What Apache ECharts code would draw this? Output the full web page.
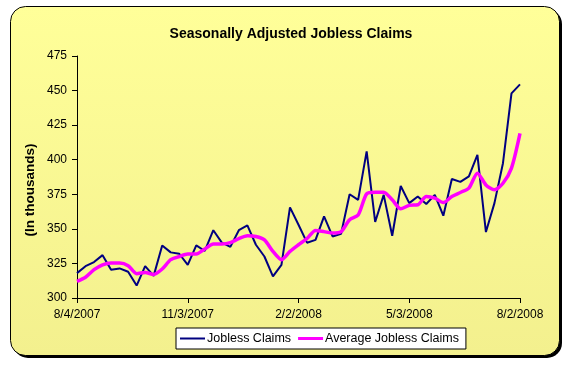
<!DOCTYPE html>
<html>
<head>
<meta charset="utf-8">
<script src="https://cdn.jsdelivr.net/npm/echarts@6/dist/echarts.min.js"></script>
<style>
html,body{margin:0;padding:0;background:#fff;}
#c{width:568px;height:365px;}
</style>
</head>
<body>
<div id="c"></div>
<script>
var categories = ['8/4/2007','8/11/2007','8/18/2007','8/25/2007','9/1/2007','9/8/2007','9/15/2007','9/22/2007','9/29/2007','10/6/2007','10/13/2007','10/20/2007','10/27/2007','11/3/2007','11/10/2007','11/17/2007','11/24/2007','12/1/2007','12/8/2007','12/15/2007','12/22/2007','12/29/2007','1/5/2008','1/12/2008','1/19/2008','1/26/2008','2/2/2008','2/9/2008','2/16/2008','2/23/2008','3/1/2008','3/8/2008','3/15/2008','3/22/2008','3/29/2008','4/5/2008','4/12/2008','4/19/2008','4/26/2008','5/3/2008','5/10/2008','5/17/2008','5/24/2008','5/31/2008','6/7/2008','6/14/2008','6/21/2008','6/28/2008','7/5/2008','7/12/2008','7/19/2008','7/26/2008','8/2/2008'];

var joblessClaims = [318,323,326,331,320.5,321.4,319,309,323,316,338,333,332,324,338,334,349,340,337,349,352.5,338.5,330,315.6,324,365.5,353,340,342,359,344.5,346.5,375,371,406,355,374.6,345,381,368.6,373.4,368,374.6,359.5,386,384,388,403.5,347.7,368.6,397.5,448,454.5];

var averageClaims = [312,315,320.5,324,325.3,325.3,323.4,317.6,318.5,317,321,327.7,330,331.8,331.8,335.4,339,339,340,343,345,344.5,342,333.7,327.7,333.7,338.5,343,348.9,348,347,348,356.6,360,375.3,376.5,376.5,371,364.5,367,367.4,373.4,372.2,369,373.4,376.3,379.4,390.3,381.8,378.2,383,393.9,419];

var yTicks = {min:300, max:475, interval:25};

var chart = echarts.init(document.getElementById('c'), null, {renderer:'canvas'});
var font = 'Arial, "Liberation Sans", sans-serif';

chart.setOption({
  animation:false,
  graphic:[
    {type:'rect', z:-10, silent:true, shape:{x:13, y:9, width:549, height:349, r:15}, style:{fill:'#000'}},
    {type:'rect', z:-9, silent:true, shape:{x:10.5, y:6.5, width:549, height:349, r:15},
      style:{fill:new echarts.graphic.LinearGradient(0,0,0,1,[{offset:0,color:'#FFFF99'},{offset:1,color:'#F3F08E'}]), stroke:'#000', lineWidth:1}},
    {type:'text', silent:true, x:30, y:190, rotation:Math.PI/2,
      style:{text:'(In thousands)', fill:'#000', font:'bold 13.5px '+font, textAlign:'center', textVerticalAlign:'middle'}}
  ],
  title:{
    text:'Seasonally Adjusted Jobless Claims',
    left:286, top:22, textAlign:'center',
    textStyle:{fontFamily:font, fontSize:14, fontWeight:'bold', color:'#000'}
  },
  legend:{
    left:176, top:328,
    padding:[4,7,4,4],
    itemGap:7,
    itemWidth:25, itemHeight:3,
    backgroundColor:'#fff', borderColor:'#000', borderWidth:1, borderRadius:0,
    textStyle:{fontFamily:font, fontSize:12.5, color:'#000', padding:[0,0,0,-3]},
    data:[
      {name:'Jobless Claims', icon:'path://M0 0H25V2H0Z'},
      {name:'Average Jobless Claims', icon:'path://M0 0H25V3H0Z'}
    ]
  },
  grid:{left:77, top:56, width:443, height:242, containLabel:false},
  xAxis:{
    type:'category', data:categories, boundaryGap:false,
    axisLine:{lineStyle:{color:'#000', width:1}},
    axisTick:{show:true, interval:12, length:5, lineStyle:{color:'#000'}},
    axisLabel:{interval:12, margin:11, fontFamily:font, fontSize:12, color:'#000'},
    splitLine:{show:false}
  },
  yAxis:{
    type:'value', min:yTicks.min, max:yTicks.max, interval:yTicks.interval,
    axisLine:{show:true, lineStyle:{color:'#000', width:1}},
    axisTick:{show:true, length:5, lineStyle:{color:'#000'}},
    axisLabel:{margin:10, fontFamily:font, fontSize:12, color:'#000'},
    splitLine:{show:false}
  },
  series:[
    {name:'Jobless Claims', type:'line', data:joblessClaims, symbol:'none', showSymbol:false,
      lineStyle:{color:'#000080', width:2}, itemStyle:{color:'#000080'}, z:3},
    {name:'Average Jobless Claims', type:'line', data:averageClaims, symbol:'none', showSymbol:false, smooth:0.25,
      lineStyle:{color:'#FF00FF', width:3.5}, itemStyle:{color:'#FF00FF'}, z:4}
  ]
});
</script>
</body>
</html>
